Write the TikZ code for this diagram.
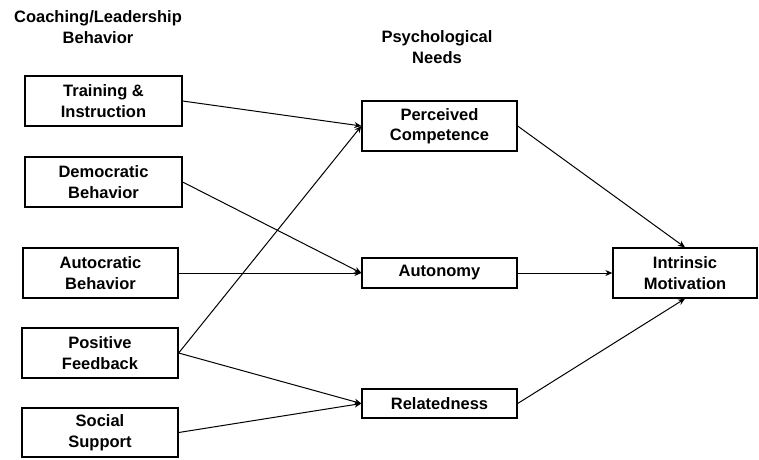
\documentclass[tikz,border=0pt]{standalone}
\usepackage{fontspec}
\setmainfont{Liberation Sans}
\usetikzlibrary{arrows.meta}
\begin{document}
\begin{tikzpicture}[x=1pt,y=-1pt,
  box/.style={draw, line width=1.3pt, align=center, inner sep=0pt, font=\bfseries\fontsize{16.5}{20.5}\selectfont},
  title/.style={align=center, inner sep=0pt, font=\bfseries\fontsize{16.5}{20.5}\selectfont},
  arr/.style={line width=1pt, -{Stealth[length=7pt,width=6pt]}}]
\useasboundingbox (0,0) rectangle (759,459);
\node[title] (t1) at (98,27) {Coaching/Leadership\\Behavior};
\node[title] (t2) at (437,47) {Psychological\\Needs};
\node[box, minimum width=157, minimum height=50] (tr) at (103.5,101) {Training \&\\Instruction};
\node[box, minimum width=157, minimum height=50] (de) at (103.5,182) {Democratic\\Behavior};
\node[box, minimum width=155, minimum height=50] (au) at (100.5,273) {Autocratic\\Behavior};
\node[box, minimum width=156, minimum height=50] (po) at (100,353) {Positive\\Feedback};
\node[box, minimum width=156, minimum height=49] (so) at (100,432.5) {Social\\Support};
\node[box, minimum width=155, minimum height=50] (pc) at (439.5,126) {Perceived\\Competence};
\node[box, minimum width=155, minimum height=30] (at) at (439.5,273) {Autonomy};
\node[box, minimum width=155, minimum height=29] (re) at (439.5,403.5) {Relatedness};
\node[box, minimum width=144, minimum height=50] (im) at (685,273) {Intrinsic\\Motivation};
\draw[arr] (tr.east) -- (pc.west);
\draw[arr] (de.east) -- (at.west);
\draw[arr] (au.east) -- (at.west);
\draw[arr] (po.east) -- (pc.west);
\draw[arr] (po.east) -- (re.west);
\draw[arr] (so.east) -- (re.west);
\draw[arr] (pc.east) -- (im.north);
\draw[arr] (at.east) -- (im.west);
\draw[arr] (re.east) -- (im.south);
\end{tikzpicture}
\end{document}
